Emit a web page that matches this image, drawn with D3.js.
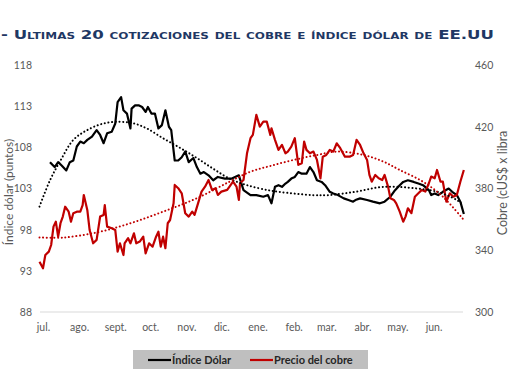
<!DOCTYPE html>
<html>
<head>
<meta charset="utf-8">
<script src="https://cdn.jsdelivr.net/npm/d3@7"></script>
<style>
  body { margin: 0; background: #fff; }
  svg { display: block; }
</style>
</head>
<body>
<div id="chart"></div>
<script>
// Días desde el 1 de julio de 2022 y valores
const dolarDias = [6, 10, 13, 16, 20, 23, 26, 29, 32, 35, 38, 42, 46, 49, 52, 55, 59, 62, 64, 67,
  69, 72, 75, 76, 79, 82, 85, 88, 90, 93, 96, 99, 102, 105, 108, 110, 113, 116, 119, 122,
  125, 129, 132, 135, 138, 142, 146, 150, 156, 162, 168, 172, 178, 183, 189, 193, 196, 199, 202, 205,
  208, 210, 213, 216, 219, 222, 226, 229, 232, 235, 239, 242, 246, 249, 253, 258, 262, 266, 268, 272,
  278, 283, 289, 293, 298, 302, 306, 309, 313, 318, 322, 326, 331, 333, 336, 339, 343, 348, 351, 355,
  358, 361];
const dolarValores = [106.2, 105.6, 106.2, 105.8, 105.2, 106.2, 106.4, 108.1, 108.7, 108.5, 108.9, 109.3, 110.1, 109.5, 108.5, 109.7, 109.9, 110.9, 113.5, 114.1,
  112.5, 112.1, 110.3, 112.7, 113.1, 113.1, 112.9, 112.3, 112.9, 112.1, 112.1, 110.3, 110.7, 112.5, 110.5, 110.1, 106.4, 106.4, 106.8, 107.5,
  106.2, 106.7, 105.6, 104.8, 105.0, 104.6, 104.0, 104.4, 104.2, 104.2, 104.6, 102.8, 102.2, 102.2, 102.0, 102.2, 101.2, 103.2, 103.4, 103.2,
  103.6, 103.8, 104.2, 104.4, 105.0, 104.8, 104.8, 105.6, 105.0, 104.0, 103.8, 103.4, 102.6, 102.4, 102.2, 101.8, 101.6, 101.4, 101.6, 101.8,
  101.6, 101.4, 101.2, 101.4, 102.0, 102.8, 103.4, 103.8, 104.0, 103.8, 103.6, 103.4, 102.8, 102.2, 102.4, 102.2, 102.6, 103.0, 102.6, 102.2,
  101.4, 99.9];

const cobreDias = [-3, 0, 2, 5, 7, 9, 11, 13, 15, 17, 19, 22, 24, 26, 29, 32, 34, 35, 38, 40,
  43, 46, 49, 52, 53, 55, 59, 62, 64, 66, 69, 70, 73, 75, 78, 80, 83, 86, 88, 91,
  94, 97, 99, 101, 103, 105, 107, 109, 112, 113, 116, 119, 122, 125, 128, 130, 133, 136, 139, 142,
  145, 148, 150, 153, 158, 160, 163, 166, 168, 169, 172, 175, 178, 180, 183, 186, 189, 192, 195, 196,
  199, 202, 205, 208, 210, 213, 216, 219, 222, 224, 226, 229, 232, 235, 238, 240, 243, 246, 249, 252,
  255, 259, 263, 266, 269, 272, 275, 278, 280, 282, 285, 288, 291, 293, 296, 298, 301, 303, 306, 309,
  311, 313, 316, 319, 322, 325, 328, 331, 333, 336, 338, 341, 343, 346, 349, 352, 355, 358, 361];
const cobreValores = [332.6, 328.3, 336.9, 339.1, 343.4, 355.3, 358.5, 348.8, 357.5, 361.8, 368.2, 365.0, 358.5, 364.0, 365.0, 365.0, 369.3, 375.8, 366.1, 353.1,
  344.5, 346.7, 361.8, 362.9, 369.3, 355.3, 354.2, 353.1, 339.1, 344.5, 336.9, 344.5, 347.8, 344.5, 351.0, 344.5, 345.6, 348.8, 338.0, 344.5,
  342.3, 348.8, 352.0, 342.3, 348.8, 341.3, 357.5, 359.6, 370.4, 382.3, 380.2, 376.9, 364.0, 361.8, 365.0, 362.9, 370.4, 378.0, 381.2, 385.5,
  379.1, 380.2, 375.8, 378.0, 379.1, 381.2, 384.4, 381.2, 372.6, 383.4, 385.5, 402.8, 412.6, 414.7, 427.7, 420.1, 423.3, 423.3, 414.7, 419.0,
  411.5, 405.0, 408.2, 402.8, 403.9, 407.1, 412.6, 395.3, 396.4, 410.4, 405.0, 402.8, 403.9, 398.5, 386.6, 400.6, 401.7, 405.0, 403.9, 409.3,
  406.1, 400.6, 400.6, 401.7, 411.5, 408.2, 402.8, 398.5, 388.8, 384.4, 388.8, 386.6, 385.5, 388.8, 381.2, 373.7, 372.6, 370.4, 365.0, 358.5,
  361.8, 367.2, 364.0, 374.7, 376.9, 379.1, 378.0, 383.4, 387.7, 386.6, 392.0, 384.4, 384.4, 371.5, 376.9, 374.7, 375.8, 384.4, 392.0];

// Líneas de tendencia (punteadas)
const tendDolarDias = [-3, 6, 15, 26, 38, 52, 66, 78, 89, 103, 118, 132, 146, 160, 175, 193, 202, 231, 245, 268, 292, 321, 338, 355, 360];
const tendDolarValores = [100.8, 104.0, 106.4, 108.9, 110.1, 110.9, 111.1, 110.9, 110.3, 109.1, 107.9, 106.7, 105.4, 104.2, 103.4, 102.8, 102.6, 102.2, 102.2, 102.6, 103.2, 103.0, 102.6, 101.6, 101.0];
const tendCobreDias = [-3, 17, 46, 75, 103, 132, 160, 178, 195, 215, 235, 252, 275, 292, 306, 326, 343, 361];
const tendCobreValores = [348.3, 348.2, 351.5, 357.5, 365.0, 373.7, 384.4, 390.9, 394.6, 398.5, 401.7, 403.9, 401.7, 397.4, 392.0, 384.4, 374.7, 359.6];

const meses = ["jul.", "ago.", "sept.", "oct.", "nov.", "dic.", "ene.", "feb.", "mar.", "abr.", "may.", "jun."];
const ticksDolar = [88, 93, 98, 103, 108, 113, 118];
const ticksCobre = [300, 340, 380, 420, 460];

const width = 510, height = 382;
const inicio = new Date(2022, 6, 1);
const fecha = d => new Date(inicio.getTime() + d * 864e5);

const svg = d3.select("#chart").append("svg")
  .attr("width", width)
  .attr("height", height)
  .style("font-family", "Lato, 'Open Sans', sans-serif");

const x = d3.scaleTime()
  .domain([inicio, new Date(2023, 6, 1)])
  .range([43, 468.5]);
const yDolar = d3.scaleLinear().domain([88, 118]).range([312, 65]);
const yCobre = d3.scaleLinear().domain([300, 460]).range([312, 65]);

// Título
svg.append("text")
  .attr("x", 1)
  .attr("y", 38.5)
  .attr("fill", "#1f3864")
  .attr("font-family", "'DejaVu Sans', Verdana, sans-serif")
  .attr("font-weight", "bold")
  .attr("font-size", 12.5)
  .style("font-variant", "small-caps")
  .attr("textLength", 493)
  .attr("lengthAdjust", "spacingAndGlyphs")
  .text("- Ultimas 20 cotizaciones del cobre e índice dólar de EE.UU");

// Línea base
svg.append("line")
  .attr("x1", 40).attr("x2", 463)
  .attr("y1", 312).attr("y2", 312)
  .attr("stroke", "#d9d9d9")
  .attr("stroke-width", 1);

// Ejes
const ejeIzq = svg.append("g")
  .attr("transform", "translate(36,0)")
  .call(d3.axisLeft(yDolar).tickValues(ticksDolar).tickSize(0).tickPadding(4));
const ejeDer = svg.append("g")
  .attr("transform", "translate(471,0)")
  .call(d3.axisRight(yCobre).tickValues(ticksCobre).tickSize(0).tickPadding(4));
const ejeX = svg.append("g")
  .attr("transform", "translate(0,312)")
  .call(d3.axisBottom(x)
    .tickValues(d3.timeMonth.range(inicio, new Date(2023, 6, 1)))
    .tickFormat((d, i) => meses[i])
    .tickSize(0).tickPadding(12));

[ejeIzq, ejeDer, ejeX].forEach(g => {
  g.select(".domain").remove();
  g.selectAll("text")
    .attr("fill", "#595959")
    .attr("font-size", 10.5)
    .attr("font-family", "Lato, 'Open Sans', sans-serif");
});

// Títulos de ejes
svg.append("text")
  .attr("transform", "translate(12.5,192) rotate(-90)")
  .attr("text-anchor", "middle")
  .attr("fill", "#595959")
  .attr("font-size", 12)
  .text("Índice dólar (puntos)");
svg.append("text")
  .attr("transform", "translate(506.5,183) rotate(-90)")
  .attr("text-anchor", "middle")
  .attr("fill", "#595959")
  .attr("font-size", 12.5)
  .text("Cobre (cUS$ x libra");

// Series
const lineaDolar = d3.line()
  .x(d => x(fecha(d)))
  .y((d, i) => yDolar(dolarValores[i]));
const lineaCobre = d3.line()
  .x(d => x(fecha(d)))
  .y((d, i) => yCobre(cobreValores[i]));

svg.append("path")
  .attr("d", lineaDolar(dolarDias))
  .attr("fill", "none")
  .attr("stroke", "#000")
  .attr("stroke-width", 2.2)
  .attr("stroke-linejoin", "round");

svg.append("path")
  .attr("d", lineaCobre(cobreDias))
  .attr("fill", "none")
  .attr("stroke", "#c00000")
  .attr("stroke-width", 2.2)
  .attr("stroke-linejoin", "round");

// Tendencias
const tendDolar = d3.line()
  .curve(d3.curveCatmullRom)
  .x(d => x(fecha(d)))
  .y((d, i) => yDolar(tendDolarValores[i]));
const tendCobre = d3.line()
  .curve(d3.curveCatmullRom)
  .x(d => x(fecha(d)))
  .y((d, i) => yCobre(tendCobreValores[i]));

svg.append("path")
  .attr("d", tendDolar(tendDolarDias))
  .attr("fill", "none")
  .attr("stroke", "#000")
  .attr("stroke-width", 2)
  .attr("stroke-linecap", "round")
  .attr("stroke-dasharray", "0.1,3.6");

svg.append("path")
  .attr("d", tendCobre(tendCobreDias))
  .attr("fill", "none")
  .attr("stroke", "#c00000")
  .attr("stroke-width", 2)
  .attr("stroke-linecap", "round")
  .attr("stroke-dasharray", "0.1,3.6");

// Leyenda
const leyenda = svg.append("g");
leyenda.append("rect")
  .attr("x", 133).attr("y", 350)
  .attr("width", 235).attr("height", 19)
  .attr("fill", "#bfbfbf");

const items = [
  { nombre: "Índice Dólar", color: "#000", x: 148 },
  { nombre: "Precio del cobre", color: "#c00000", x: 250 }
];
items.forEach(it => {
  leyenda.append("line")
    .attr("x1", it.x).attr("x2", it.x + 23)
    .attr("y1", 360).attr("y2", 360)
    .attr("stroke", it.color)
    .attr("stroke-width", 2.2);
  leyenda.append("text")
    .attr("x", it.x + 24)
    .attr("y", 364)
    .attr("fill", "#262626")
    .attr("font-size", 11)
    .attr("font-weight", "bold")
    .text(it.nombre);
});
</script>
</body>
</html>
